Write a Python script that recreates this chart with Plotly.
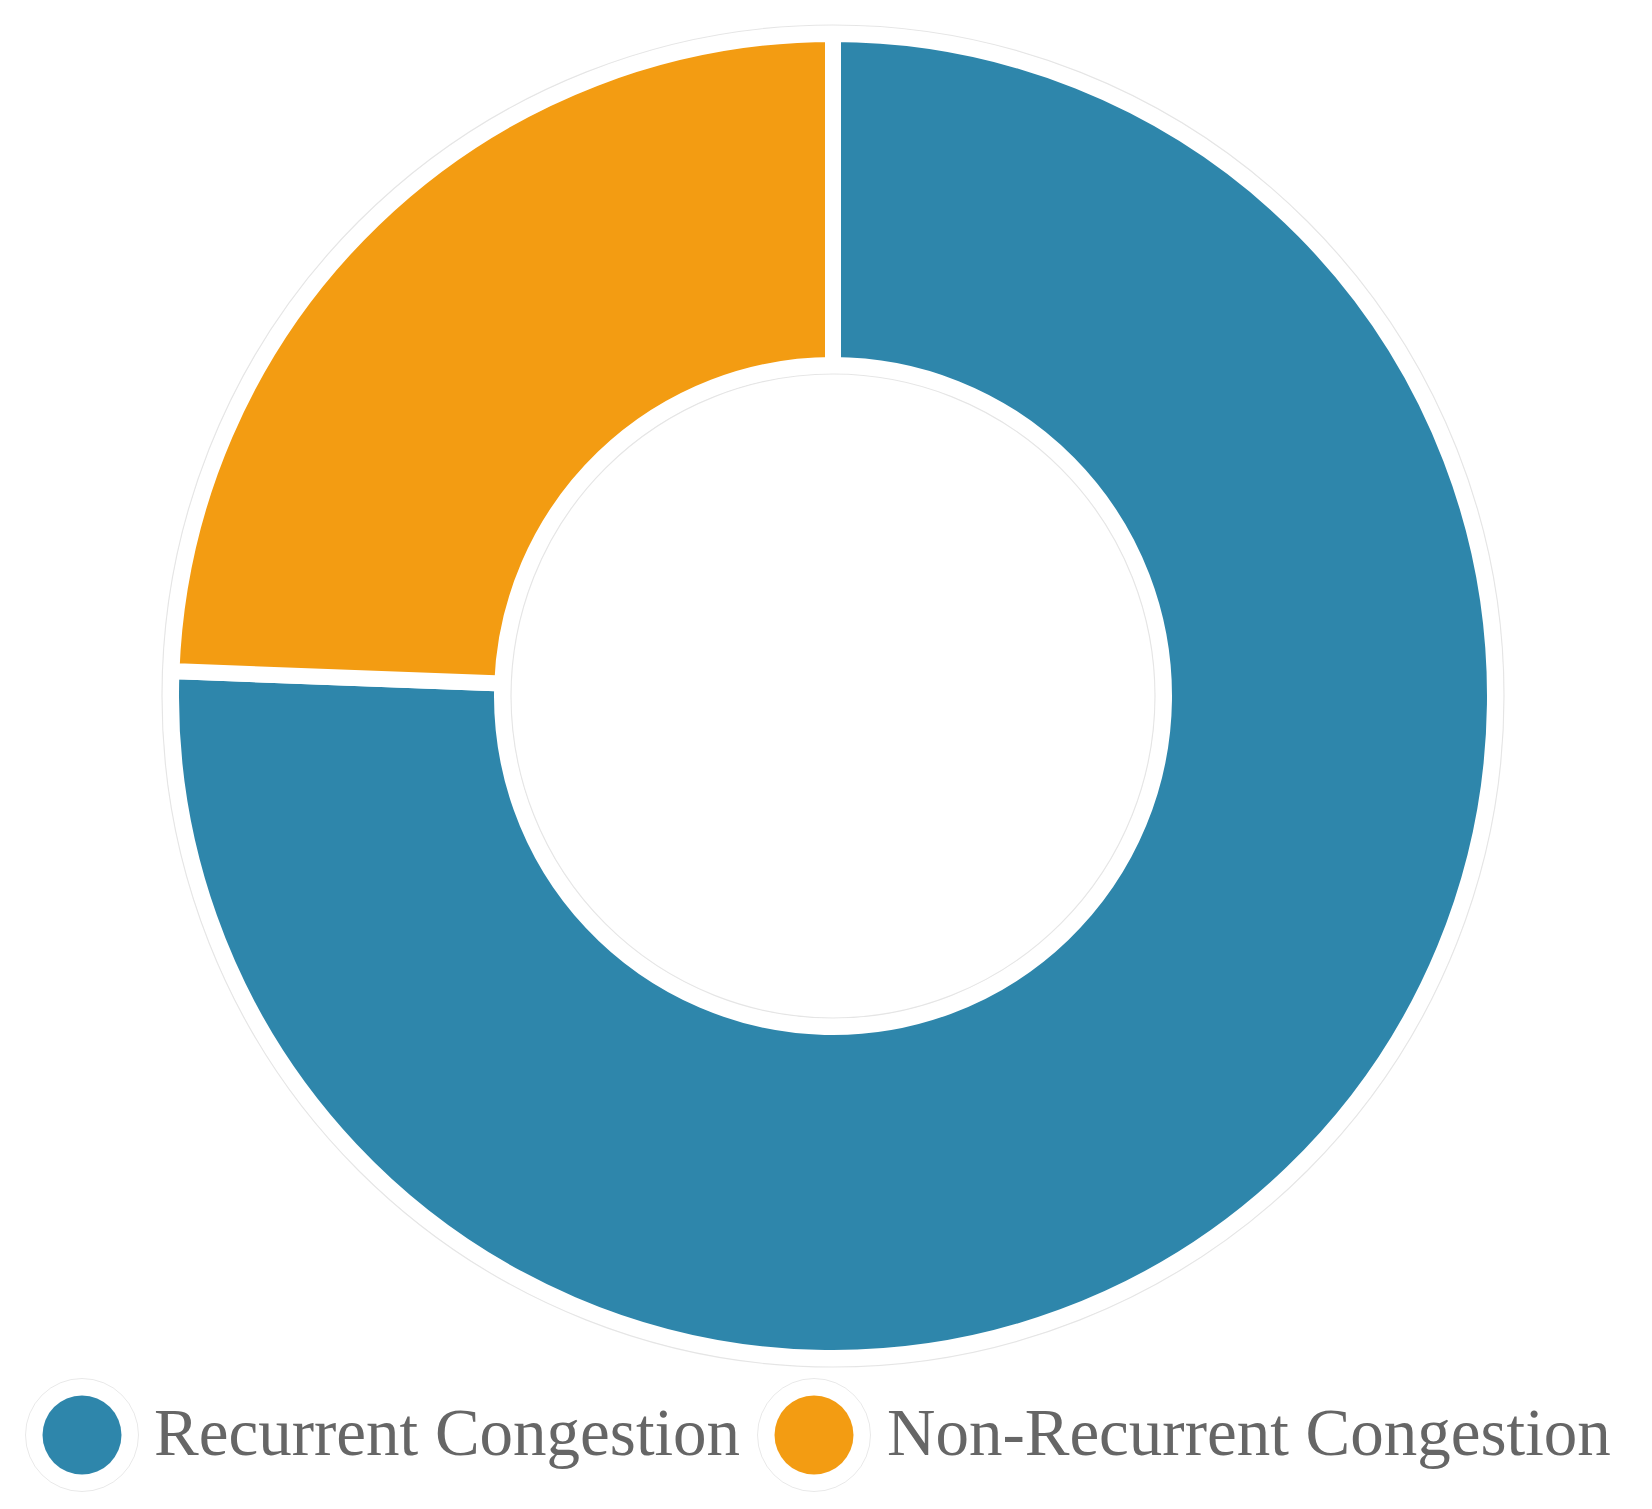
import plotly.graph_objects as go

# data
categories = ["Recurrent Congestion", "Non-Recurrent Congestion"]
shares = [75.6, 24.4]
colors = ["#2E86AB", "#F39C12"]

# page geometry (figure sits 8px inside the page because of body margin)
W, H = 1636, 1493
cx, cy = 825, 688          # donut centre, px from top-left
R, R_hole = 662, 331       # slice radius incl. white stroke
ring_r, ring_hole = 671, 322


def dom(r):
    return dict(x=[(cx - r) / W, (cx + r) / W],
                y=[(H - cy - r) / H, (H - cy + r) / H])


fig = go.Figure()

# faint grey halo round the donut
fig.add_trace(go.Pie(
    values=[1], labels=["halo"], hole=ring_hole / ring_r, domain=dom(ring_r),
    marker=dict(colors=["white"], line=dict(color="rgba(0,0,0,0.10)", width=1.2)),
    textinfo="none", hoverinfo="skip", showlegend=False, sort=False,
))

fig.add_trace(go.Pie(
    labels=categories, values=shares, hole=R_hole / R, domain=dom(R),
    sort=False, direction="clockwise", rotation=0,
    marker=dict(colors=colors, line=dict(color="white", width=16)),
    textinfo="none", showlegend=False,
))

# legend drawn by hand: circle markers + labels
leg_y = 1427
leg_x = [74, 806]
txt_x = [144, 877]

fig.add_trace(go.Scatter(
    x=leg_x, y=[leg_y] * 2, mode="markers", hoverinfo="skip", showlegend=False,
    marker=dict(size=113, color="white", line=dict(color="rgba(0,0,0,0.09)", width=1)),
))
fig.add_trace(go.Scatter(
    x=leg_x, y=[leg_y] * 2, mode="markers", hoverinfo="skip", showlegend=False,
    marker=dict(size=79, color=colors, line=dict(width=0)),
))

for name, x in zip(categories, txt_x):
    fig.add_annotation(
        x=x, y=leg_y - 3, xref="x", yref="y", text=name, showarrow=False,
        xanchor="left", yanchor="middle",
        font=dict(family="Liberation Serif, Times New Roman, serif", size=67, color="#666666"),
    )

fig.update_layout(
    width=W, height=H,
    margin=dict(l=0, r=0, t=0, b=0),
    paper_bgcolor="white", plot_bgcolor="white",
    xaxis=dict(range=[0, W], visible=False, domain=[0, 1]),
    yaxis=dict(range=[H, 0], visible=False, domain=[0, 1]),
)

fig.write_html("out.html")
